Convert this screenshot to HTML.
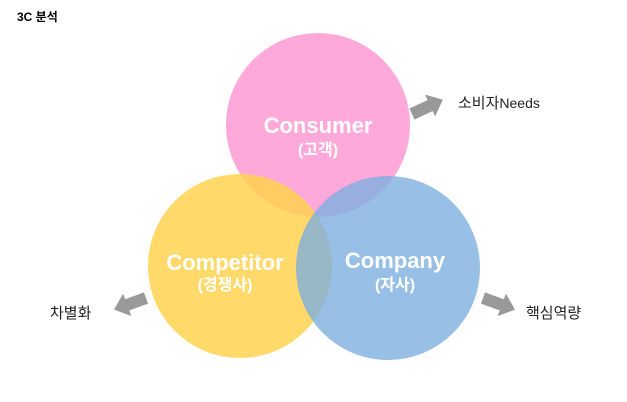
<!DOCTYPE html>
<html><head><meta charset="utf-8"><style>
body{margin:0;background:#fff;}
svg{display:block;}
text{font-family:"Liberation Sans","Noto Sans CJK KR",sans-serif;}
</style></head><body>
<svg width="627" height="402" viewBox="0 0 627 402">
<rect width="627" height="402" fill="#fff"/>
<text x="17" y="21" font-size="12" font-weight="bold" fill="#000">3C 분석</text>
<circle cx="318" cy="125" r="92" fill="#ff9fd6" fill-opacity="0.9"/>
<circle cx="240" cy="266" r="92" fill="#ffd24f" fill-opacity="0.85"/>
<circle cx="388" cy="268" r="92" fill="#7eafdf" fill-opacity="0.8"/>
<g fill="#fff" font-weight="bold" text-anchor="middle">
<text x="318" y="133" font-size="22">Consumer</text>
<text x="318" y="155" font-size="16">(고객)</text>
<text x="225" y="270" font-size="22">Competitor</text>
<text x="225" y="290" font-size="16">(경쟁사)</text>
<text x="395" y="268" font-size="22">Company</text>
<text x="395" y="290" font-size="16">(자사)</text>
</g>
<g fill="#999">
<polygon points="0,-6 20,-6 20,-12 34,0 20,12 20,6 0,6" transform="translate(412,114) rotate(-25)"/>
<polygon points="0,-6 20,-6 20,-12 34,0 20,12 20,6 0,6" transform="translate(146,298) rotate(160)"/>
<polygon points="0,-6 20,-6 20,-12 34,0 20,12 20,6 0,6" transform="translate(483,298) rotate(20)"/>
</g>
<g fill="#222" font-size="15">
<text x="458" y="108">소비자<tspan font-size="14">Needs</tspan></text>
<text x="50" y="318">차별화</text>
<text x="526" y="318">핵심역량</text>
</g>
</svg>
</body></html>
